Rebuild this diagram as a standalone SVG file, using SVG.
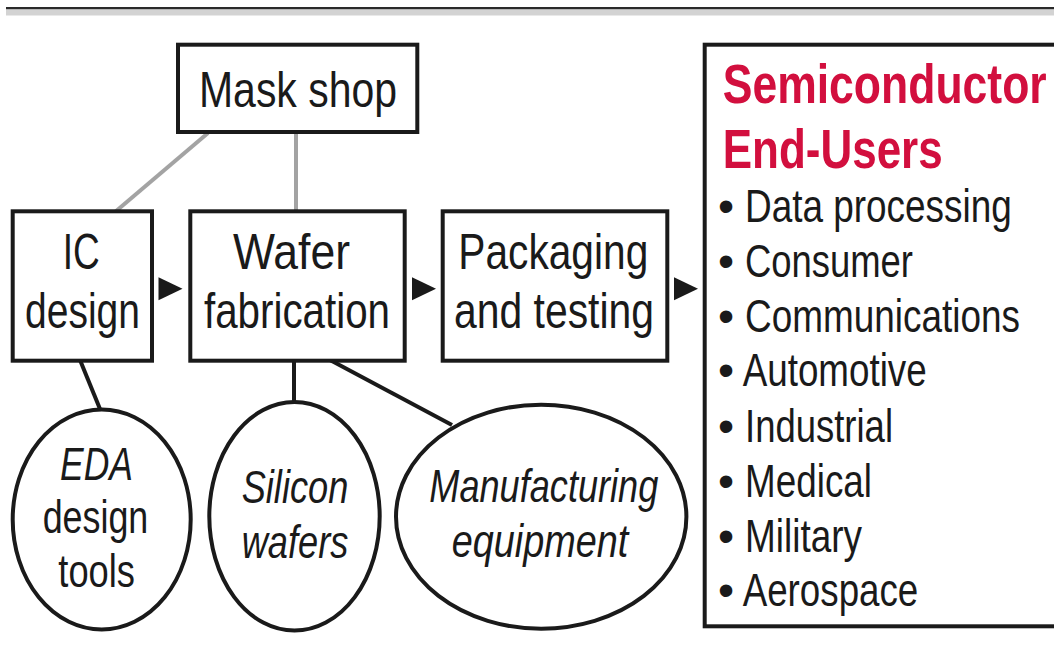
<svg xmlns="http://www.w3.org/2000/svg" width="1054" height="650" viewBox="0 0 1054 650">
  <style>
    .box { fill: #ffffff; stroke: #1a1a1a; stroke-width: 4; }
    .oval { fill: #ffffff; stroke: #1a1a1a; stroke-width: 4; }
    .link { stroke: #1a1a1a; stroke-width: 4; fill: none; }
    .feed { stroke: #a3a3a3; stroke-width: 4; fill: none; }
    .head { fill: #1a1a1a; }
    .lbl { font-family: "Liberation Sans", Arial, sans-serif; font-size: 50px; fill: #1a1a1a; }
    .ital { font-family: "Liberation Sans", Arial, sans-serif; font-size: 46px; font-style: italic; fill: #1a1a1a; }
    .plain { font-family: "Liberation Sans", Arial, sans-serif; font-size: 46px; fill: #1a1a1a; }
    .item { font-family: "Liberation Sans", Arial, sans-serif; font-size: 46px; fill: #1a1a1a; }
    .title { font-family: "Liberation Sans", Arial, sans-serif; font-size: 55px; font-weight: bold; fill: #d20f3e; }
  </style>
  <defs>
    <path id="tri" d="M0,-11.5 L24,0 L0,11.5 Z"/>
  </defs>

  <rect width="1054" height="650" fill="#ffffff"/>

  <!-- header rule -->
  <rect x="6" y="7" width="1048" height="2.5" fill="#2a2a2a"/>
  <rect x="6" y="9.5" width="1048" height="6" fill="#d3d3d3"/>

  <!-- connectors -->
  <g id="connectors">
    <line class="feed" x1="208" y1="133" x2="115" y2="212"/>
    <line class="feed" x1="296" y1="133" x2="296" y2="212"/>
    <line class="link" x1="80" y1="360" x2="100" y2="409"/>
    <line class="link" x1="294" y1="360" x2="294" y2="402"/>
    <line class="link" x1="330" y1="360" x2="452" y2="425"/>
    <use href="#tri" class="head" x="158.5" y="288.7"/>
    <use href="#tri" class="head" x="412" y="288.7"/>
    <use href="#tri" class="head" x="674" y="288.7"/>
  </g>

  <g id="mask-shop">
    <rect class="box" x="178" y="44.7" width="239.3" height="87.3"/>
    <text class="lbl" x="199" y="106.5" textLength="198" lengthAdjust="spacingAndGlyphs">Mask shop</text>
  </g>

  <g id="ic-design">
    <rect class="box" x="12.7" y="211.3" width="139.3" height="149.4"/>
    <text class="lbl" x="62.7" y="269.3" textLength="37" lengthAdjust="spacingAndGlyphs">IC</text>
    <text class="lbl" x="25" y="328.3" textLength="115" lengthAdjust="spacingAndGlyphs">design</text>
  </g>

  <g id="wafer-fabrication">
    <rect class="box" x="190.3" y="211.3" width="214.4" height="149.4"/>
    <text class="lbl" x="233" y="269.3" textLength="117" lengthAdjust="spacingAndGlyphs">Wafer</text>
    <text class="lbl" x="204" y="328.3" textLength="186" lengthAdjust="spacingAndGlyphs">fabrication</text>
  </g>

  <g id="packaging-testing">
    <rect class="box" x="442.7" y="211.3" width="224.6" height="149.4"/>
    <text class="lbl" x="458.3" y="268.5" textLength="190" lengthAdjust="spacingAndGlyphs">Packaging</text>
    <text class="lbl" x="454" y="327.5" textLength="200" lengthAdjust="spacingAndGlyphs">and testing</text>
  </g>

  <g id="eda-tools">
    <ellipse class="oval" cx="101.7" cy="519.5" rx="89" ry="110"/>
    <text class="ital" x="60" y="479.5" textLength="73" lengthAdjust="spacingAndGlyphs">EDA</text>
    <text class="plain" x="42.7" y="533.3" textLength="105.6" lengthAdjust="spacingAndGlyphs">design</text>
    <text class="plain" x="58.3" y="586.7" textLength="76.7" lengthAdjust="spacingAndGlyphs">tools</text>
  </g>

  <g id="silicon-wafers">
    <ellipse class="oval" cx="294.5" cy="516.3" rx="85.2" ry="114.3"/>
    <text class="ital" x="241.7" y="503.3" textLength="106.6" lengthAdjust="spacingAndGlyphs">Silicon</text>
    <text class="ital" x="241.7" y="558.3" textLength="106.6" lengthAdjust="spacingAndGlyphs">wafers</text>
  </g>

  <g id="manufacturing-equipment">
    <ellipse class="oval" cx="541.2" cy="516.7" rx="145.2" ry="112"/>
    <text class="ital" x="429.3" y="501.7" textLength="229" lengthAdjust="spacingAndGlyphs">Manufacturing</text>
    <text class="ital" x="451.7" y="556.7" textLength="176.6" lengthAdjust="spacingAndGlyphs">equipment</text>
  </g>

  <g id="end-users">
    <rect class="box" x="704.7" y="44.7" width="360" height="581.6"/>
    <text class="title" x="722.7" y="103.3" textLength="324" lengthAdjust="spacingAndGlyphs">Semiconductor</text>
    <text class="title" x="722.7" y="168.3" textLength="220" lengthAdjust="spacingAndGlyphs">End-Users</text>
    <g class="item">
      <text x="718" y="222">•</text>
      <text x="745" y="222" textLength="266.7" lengthAdjust="spacingAndGlyphs">Data processing</text>
      <text x="718" y="277">•</text>
      <text x="745" y="277" textLength="168" lengthAdjust="spacingAndGlyphs">Consumer</text>
      <text x="718" y="331.7">•</text>
      <text x="745" y="331.7" textLength="275" lengthAdjust="spacingAndGlyphs">Communications</text>
      <text x="718" y="386.3">•</text>
      <text x="742.7" y="386.3" textLength="184" lengthAdjust="spacingAndGlyphs">Automotive</text>
      <text x="718" y="441.5">•</text>
      <text x="745" y="441.5" textLength="148" lengthAdjust="spacingAndGlyphs">Industrial</text>
      <text x="718" y="496.5">•</text>
      <text x="745" y="496.5" textLength="127" lengthAdjust="spacingAndGlyphs">Medical</text>
      <text x="718" y="551.5">•</text>
      <text x="745" y="551.5" textLength="117" lengthAdjust="spacingAndGlyphs">Military</text>
      <text x="718" y="606">•</text>
      <text x="742.7" y="606" textLength="175.6" lengthAdjust="spacingAndGlyphs">Aerospace</text>
    </g>
  </g>
</svg>
